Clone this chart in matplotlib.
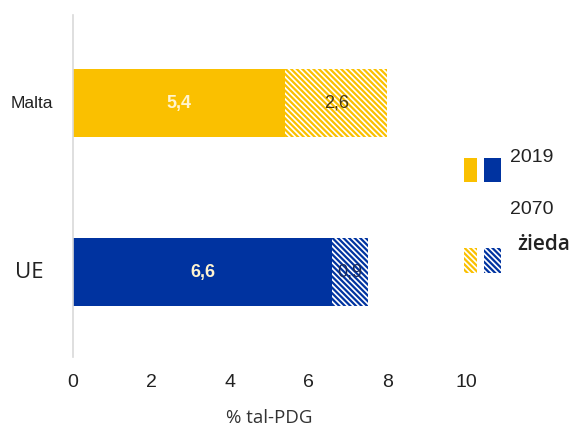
import matplotlib
matplotlib.use("Agg")
import matplotlib.pyplot as plt
from matplotlib.patches import Rectangle

# data
countries = ["UE", "Malta"]
base_2019 = [6.6, 5.4]
increase_2070 = [0.9, 2.6]
base_labels = ["6,6", "5,4"]
increase_labels = ["0,9", "2,6"]
x_ticks = [0, 2, 4, 6, 8, 10]

yellow = "#FAC000"
blue = "#0033A0"
colors = [blue, yellow]
inc_text_colors = ["#1a2a5a", "#4a3a10"]
HATCH = "\\" * 6

plt.rcParams["hatch.linewidth"] = 1.6

fig = plt.figure(figsize=(5.72, 4.30), dpi=100)
ax = fig.add_axes([73 / 572, 1 - 357 / 430, (466 - 73) / 572, (357 - 15) / 430])

ypos = list(range(len(countries)))
ax.barh(ypos, base_2019, height=0.4, color=colors, linewidth=0)
ax.barh(ypos, increase_2070, left=base_2019, height=0.4, facecolor="white",
        edgecolor=colors, hatch=HATCH, linewidth=0)

for i in ypos:
    ax.text(base_2019[i] / 2, i, base_labels[i], ha="center", va="center",
            color="#fff4d0", fontsize=13, fontweight="bold", family="Liberation Sans")
    ax.text(base_2019[i] + increase_2070[i] / 2, i, increase_labels[i], ha="center",
            va="center", color=inc_text_colors[i], fontsize=13, family="Liberation Sans")

ax.set_xlim(0, 10)
ax.set_ylim(-0.5, 1.52)
ax.set_xticks(x_ticks)
ax.set_xticklabels([str(t) for t in x_ticks], fontsize=14, color="#222222",
                   family="Liberation Sans")
ax.set_yticks([])
ax.tick_params(length=0, pad=12)

# category labels (two different fonts, as in the reference)
ax.text(-0.74, 0, countries[0], ha="right", va="center", fontsize=16,
        family="Open Sans", color="#222222", clip_on=False)
ax.text(-0.51, 1, countries[1], ha="right", va="center", fontsize=12.5,
        family="Liberation Sans", color="#222222", clip_on=False)

for side in ["top", "right", "bottom"]:
    ax.spines[side].set_visible(False)
ax.spines["left"].set_color("#d9d9d9")
ax.spines["left"].set_linewidth(1.2)

ax.set_xlabel("% tal-PDG", fontsize=13.5, family="Open Sans", color="#333333", labelpad=13)

# legend
W, H = 572, 430
def legend_box(x0, y0, x1, y1, color, hatch=None):
    if hatch:
        r = Rectangle((x0 / W, 1 - y1 / H), (x1 - x0) / W, (y1 - y0) / H,
                      transform=fig.transFigure, facecolor="white", edgecolor=color,
                      hatch=hatch, linewidth=0)
    else:
        r = Rectangle((x0 / W, 1 - y1 / H), (x1 - x0) / W, (y1 - y0) / H,
                      transform=fig.transFigure, facecolor=color, linewidth=0)
    fig.add_artist(r)

legend_box(464, 158, 477, 182, yellow)
legend_box(484, 158, 501, 182, blue)
legend_box(464, 248, 477, 273, yellow, HATCH)
legend_box(484, 248, 501, 273, blue, HATCH)

fig.text(510 / W, 1 - 158 / H, "2019", fontsize=14, va="center", ha="left",
         color="#222222", family="Liberation Sans")
fig.text(510 / W, 1 - 210 / H, "2070", fontsize=14, va="center", ha="left",
         color="#222222", family="Liberation Sans")
fig.text(517 / W, 1 - 245 / H, "żieda", fontsize=15, va="center", ha="left",
         color="#222222", family="Open Sans", fontweight="semibold")

fig.savefig("out.png", dpi=100)
